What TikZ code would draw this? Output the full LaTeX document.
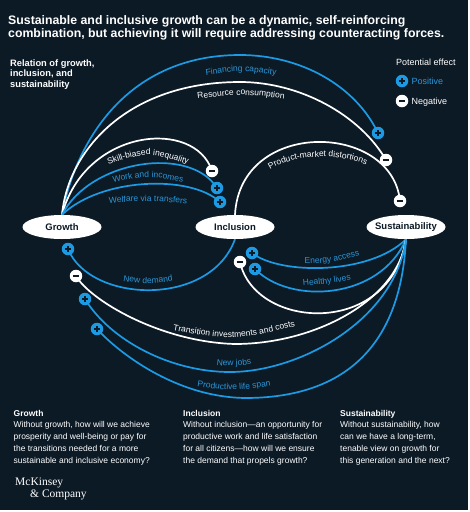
\documentclass[tikz,border=0pt]{standalone}
\usepackage{fontspec}
\setmainfont{Liberation Sans}
\newfontfamily\logofont{Liberation Serif}
\usetikzlibrary{shapes.geometric,decorations.text}
\definecolor{navy}{RGB}{12,26,38}
\definecolor{mblue}{RGB}{28,154,228}
\definecolor{lblue}{RGB}{42,150,214}
\newcommand\lblfont{\fontsize{8.5}{10}\selectfont}
\pgfdeclarelayer{bg}
\pgfsetlayers{bg,main}
\begin{document}
\begin{tikzpicture}[x=1pt,y=-1pt,
  ell/.style={ellipse, fill=white, minimum width=79pt, minimum height=24pt, inner sep=0pt,
    font=\fontsize{9.5}{11}\selectfont\bfseries, text=navy},
  barc/.style={draw=mblue, line width=1.7pt},
  warc/.style={draw=white, line width=1.7pt},
  plusb/.style={circle, fill=mblue, minimum size=12.5pt, inner sep=0pt,
    path picture={\draw[navy, line width=1.3pt]
      ([xshift=-3.2pt]path picture bounding box.center) -- ([xshift=3.2pt]path picture bounding box.center)
      ([yshift=-3.2pt]path picture bounding box.center) -- ([yshift=3.2pt]path picture bounding box.center);}},
  minusb/.style={circle, fill=white, minimum size=12.5pt, inner sep=0pt,
    path picture={\draw[navy, line width=1.3pt]
      ([xshift=-3.2pt]path picture bounding box.center) -- ([xshift=3.2pt]path picture bounding box.center);}},
  lbl/.style={decorate, decoration={text along path, text align=center, text color=#1}},
  txt/.style={inner sep=0pt, text=white}
]
\useasboundingbox (0,0) rectangle (470,512);

% main nodes
\node[ell] (G) at (62,227) {\makebox[0pt]{Growth}};
\node[ell] (I) at (235,227) {\makebox[0pt]{Inclusion}};
\node[ell] (S) at (406,227) {\makebox[0pt]{Sustainability}};

% badges
\node[plusb] (b1) at (378,133) {};
\node[minusb] (b2) at (386,160) {};
\node[minusb] (b3) at (212,171) {};
\node[plusb] (b4) at (217,188) {};
\node[plusb] (b5) at (220,202) {};
\node[minusb] (b6) at (400,201) {};
\node[plusb] (b7) at (68,249) {};
\node[plusb] (b8) at (252,253) {};
\node[plusb] (b9) at (255,269) {};
\node[minusb] (b10) at (240,262) {};
\node[minusb] (b11) at (76,276) {};
\node[plusb] (b12) at (85,299) {};
\node[plusb] (b13) at (97,329) {};

\begin{pgfonlayer}{bg}
\fill[white] (0,0) rectangle (470,512);
\fill[navy] (0,0) rectangle (468,510);
% arcs from Growth
\draw[barc] (G.north) .. controls (76,140) and (128,55) .. (240,55) .. controls (300,55) and (355,85) .. (b1.center);
\draw[warc] (G.north) .. controls (68,150) and (128,82) .. (240,82) .. controls (300,82) and (360,115) .. (b2.center);
\draw[warc] (G.north) .. controls (85,128) and (195,118) .. (b3.center);
\draw[barc] (G.north) .. controls (90,160) and (190,145) .. (b4.center);
\draw[barc] (G.north) .. controls (100,178) and (190,174) .. (b5.center);
% arcs at Inclusion
\draw[warc] (I.north) .. controls (240,118) and (392,122) .. (b6.center);
\draw[barc] (b7.center) .. controls (90,303) and (210,308) .. (I.south);
% arcs from Sustainability
\draw[barc] (b8.center) .. controls (280,275) and (370,275) .. (S.south);
\draw[barc] (b9.center) .. controls (290,305) and (380,300) .. (S.south);
\draw[warc] (b10.center) .. controls (255,330) and (390,338) .. (S.south);
\draw[warc] (b11.center) .. controls (90,300) and (160,342) .. (235,344) .. controls (315,344) and (398,300) .. (S.south);
\draw[barc] (b12.center) .. controls (110,340) and (170,372) .. (230,372) .. controls (300,372) and (395,320) .. (S.south);
\draw[barc] (b13.center) .. controls (118,352) and (175,397) .. (245,398) .. controls (330,398) and (400,360) .. (S.south);
\end{pgfonlayer}

% arc labels
\path[lbl=lblue, decoration={text={|\lblfont|Financing capacity}}] (193,77) .. controls (241,69.7) .. (289,77);
\path[lbl=white, decoration={text={|\lblfont|Resource consumption}}] (183,101) .. controls (241,93) .. (299,101);
\path[lbl=white, decoration={text={|\lblfont|Skill-biased inequality}}] (100,167) .. controls (148,151) .. (196,167);
\path[lbl=lblue, decoration={text={|\lblfont|Work and incomes}}] (105,184) .. controls (148,174.7) .. (191,184);
\path[lbl=lblue, decoration={text={|\lblfont|Welfare via transfers}}] (100,204) .. controls (148,200) .. (196,205);
\path[lbl=white, decoration={text={|\lblfont|Product-market distortions}}] (258,181) .. controls (280,150) and (356,150) .. (380,174);
\path[lbl=lblue, decoration={text={|\lblfont|New demand}}] (110,279) .. controls (148,285) .. (186,279);
\path[lbl=lblue, decoration={text={|\lblfont|Energy access}}] (294,264) .. controls (332,263) .. (370,253);
\path[lbl=lblue, decoration={text={|\lblfont|Healthy lives}}] (290,287) .. controls (327,284) .. (364,278);
\path[lbl=white, decoration={text={|\lblfont|Transition investments and costs}}] (160,328) .. controls (234,341) .. (308,323);
\path[lbl=lblue, decoration={text={|\lblfont|New jobs}}] (198,363) .. controls (234,367) .. (270,362);
\path[lbl=lblue, decoration={text={|\lblfont|Productive life span}}] (183,384) .. controls (234,392) .. (285,383);

% title and headings
\node[txt, anchor=north west, align=left, font=\fontsize{12.3}{13.5}\selectfont\bfseries] (title) at (8,15)
  {Sustainable and inclusive growth can be a dynamic, self-reinforcing\\combination, but achieving it will require addressing counteracting forces.};
\node[txt, anchor=north west, align=left, font=\fontsize{9.3}{10.8}\selectfont\bfseries] (sub) at (10,59.2)
  {Relation of growth,\\inclusion, and\\sustainability};

% legend
\node[txt, anchor=base west, font=\fontsize{9}{11}\selectfont] (lt) at (396,65) {Potential effect};
\node[plusb] (lp) at (402,81) {};
\node[txt, anchor=base west, font=\fontsize{9}{11}\selectfont, text=lblue] (lpt) at (411.5,84.3) {Positive};
\node[minusb] (ln) at (402,101) {};
\node[txt, anchor=base west, font=\fontsize{9}{11}\selectfont] (lnt) at (411.5,104.3) {Negative};

% bottom texts
\node[txt, anchor=north west, align=left, font=\fontsize{8.5}{11.8}\selectfont] (tg) at (13.5,409.8)
  {\textbf{Growth}\\Without growth, how will we achieve\\prosperity and well-being or pay for\\the transitions needed for a more\\sustainable and inclusive economy?};
\node[txt, anchor=north west, align=left, font=\fontsize{8.5}{11.8}\selectfont] (ti) at (183,409.8)
  {\textbf{Inclusion}\\Without inclusion—an opportunity for\\productive work and life satisfaction\\for all citizens—how will we ensure\\the demand that propels growth?};
\node[txt, anchor=north west, align=left, font=\fontsize{8.5}{11.8}\selectfont] (ts) at (340,409.8)
  {\textbf{Sustainability}\\Without sustainability, how\\can we have a long-term,\\tenable view on growth for\\this generation and the next?};

% logo
\node[txt, anchor=base west, font=\logofont\fontsize{11.5}{12}\selectfont] (mck1) at (15,485.5) {McKinsey};
\node[txt, anchor=base west, font=\logofont\fontsize{11.5}{12}\selectfont] (mck2) at (30,497) {\& Company};
\end{tikzpicture}
\end{document}
